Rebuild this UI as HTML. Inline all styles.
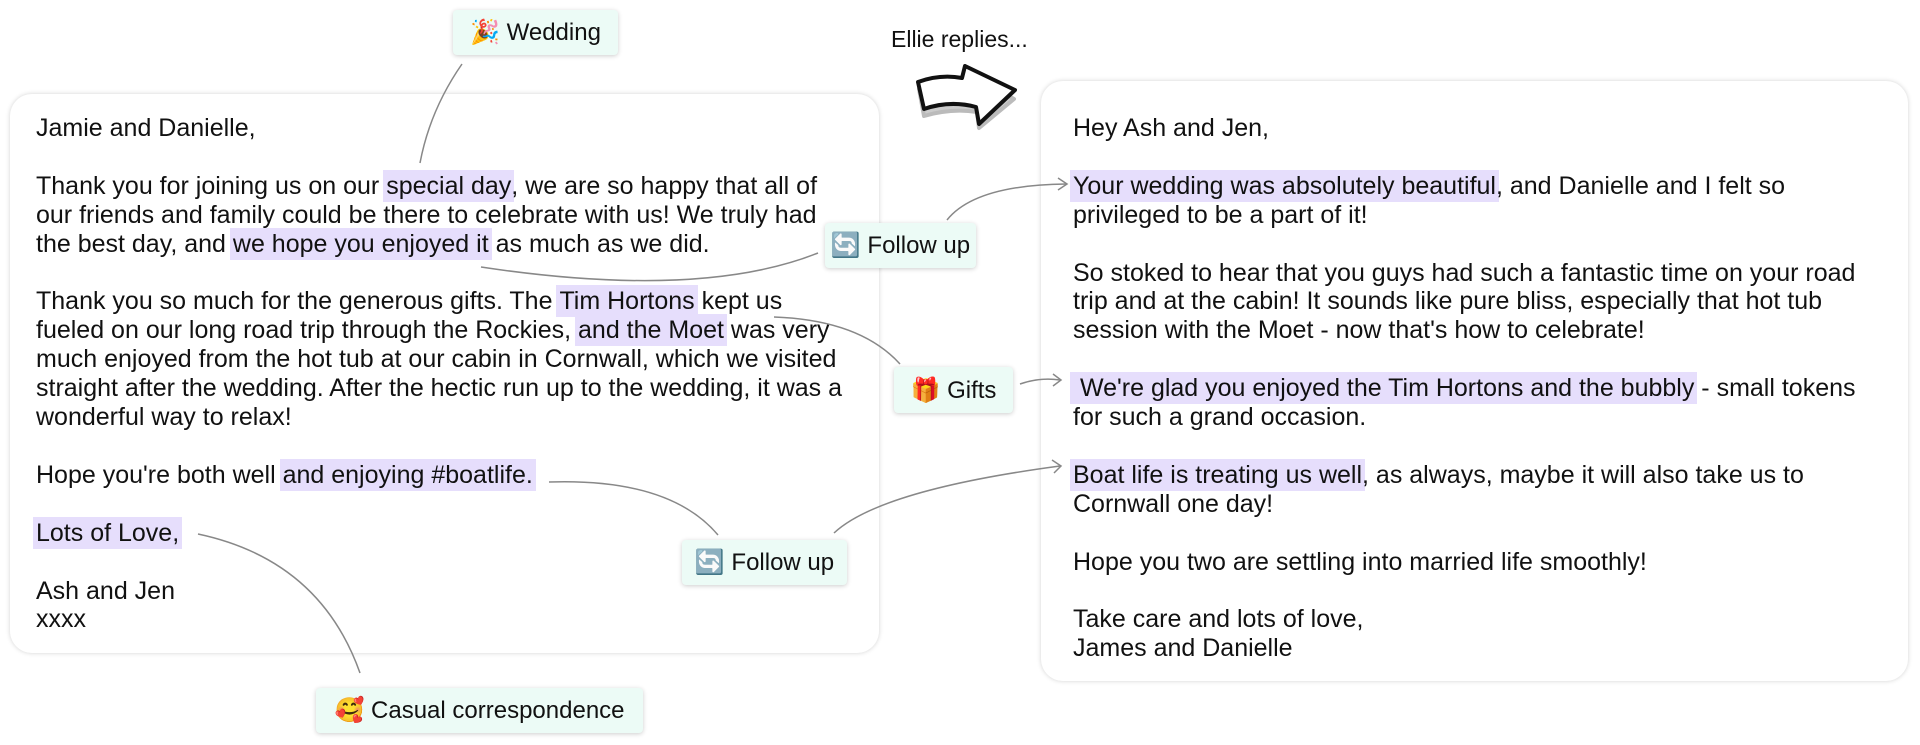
<!DOCTYPE html>
<html><head><meta charset="utf-8"><style>
html,body{margin:0;padding:0;background:#fff;width:1920px;height:745px;overflow:hidden;position:relative;font-family:"Liberation Sans",Arial,sans-serif;color:#111}
.card{position:absolute;background:#fff;border-radius:22px;box-shadow:0 0 5px rgba(0,0,0,.18)}
.txt{position:absolute;font-size:25px;line-height:28.9px;white-space:nowrap}
.h{background:#e6defc;padding:2px 3px;margin:0 -3px}
.tag{position:absolute;background:#ecfbf6;border-radius:4px;box-shadow:0 1px 5px rgba(0,0,0,.2);font-size:24px;display:flex;align-items:center;justify-content:center;white-space:nowrap}
svg{position:absolute;left:0;top:0}
</style></head><body>
<div class="card" style="left:10px;top:94px;width:869px;height:559px"></div>
<div class="card" style="left:1041px;top:81px;width:867px;height:600px"></div>

<div class="txt" style="left:36px;top:114px">Jamie and Danielle,<br><br>Thank you for joining us on our <span class="h">special day</span>, we are so happy that all of<br>our friends and family could be there to celebrate with us! We truly had<br>the best day, and <span class="h">we hope you enjoyed it</span> as much as we did.<br><br>Thank you so much for the generous gifts. The <span class="h">Tim Hortons</span> kept us<br>fueled on our long road trip through the Rockies, <span class="h">and the Moet</span> was very<br>much enjoyed from the hot tub at our cabin in Cornwall, which we visited<br>straight after the wedding. After the hectic run up to the wedding, it was a<br>wonderful way to relax!<br><br>Hope you're both well <span class="h">and enjoying #boatlife.</span><br><br><span class="h">Lots of Love,</span><br><br>Ash and Jen<br>xxxx</div>

<div class="txt" style="left:1073px;top:114px">Hey Ash and Jen,<br><br><span class="h">Your wedding was absolutely beautiful</span>, and Danielle and I felt so<br>privileged to be a part of it!<br><br>So stoked to hear that you guys had such a fantastic time on your road<br>trip and at the cabin! It sounds like pure bliss, especially that hot tub<br>session with the Moet - now that's how to celebrate!<br><br><span class="h">&nbsp;We're glad you enjoyed the Tim Hortons and the bubbly</span> - small tokens<br>for such a grand occasion.<br><br><span class="h">Boat life is treating us well</span>, as always, maybe it will also take us to<br>Cornwall one day!<br><br>Hope you two are settling into married life smoothly!<br><br>Take care and lots of love,<br>James and Danielle</div>

<div class="txt" style="left:891px;top:25px;font-size:23px">Ellie replies...</div>

<svg width="1920" height="745" viewBox="0 0 1920 745">
<g fill="none" stroke="#888" stroke-width="1.5">
<path d="M462,64 Q430,110 420,163"/>
<path d="M818,253 Q700,300 481,267"/>
<path d="M947,220 Q975,185 1066,184"/>
<path d="M900,364 Q860,320 774,317"/>
<path d="M1020,384 Q1040,377 1060,380"/>
<path d="M549,482 Q670,478 718,535"/>
<path d="M834,533 Q880,490 1060,466"/>
<path d="M198,534 Q320,560 360,673"/>
</g>
<g fill="none" stroke="#888" stroke-width="1.5">
<path d="M1058,178 L1067,184 L1058,190"/>
<path d="M1053,374 L1061,380 L1053,386"/>
<path d="M1052,460 L1061,466 L1054,473"/>
</g>
<path d="M921,85 Q943,77 966,82 L968,67 L1016,95 L981,124 L979,108 Q953,104 926,112 Z" fill="#ccc" stroke="#bbb" stroke-width="4" stroke-linejoin="round" transform="translate(-2,4)"/>
<path d="M918,82 Q940,74 962,78 L965,66 L1015,90 L979,124 L976,107 Q950,100 924,109 Z" fill="#fff" stroke="#111" stroke-width="4" stroke-linejoin="round"/>
</svg>

<div class="tag" style="left:453px;top:10px;width:165px;height:45px">🎉&nbsp;Wedding</div>
<div class="tag" style="left:825px;top:223px;width:151px;height:45px">🔄&nbsp;Follow up</div>
<div class="tag" style="left:894px;top:367px;width:119px;height:46px">🎁&nbsp;Gifts</div>
<div class="tag" style="left:682px;top:540px;width:165px;height:45px">🔄&nbsp;Follow up</div>
<div class="tag" style="left:316px;top:688px;width:327px;height:45px">🥰&nbsp;Casual correspondence</div>
</body></html>
